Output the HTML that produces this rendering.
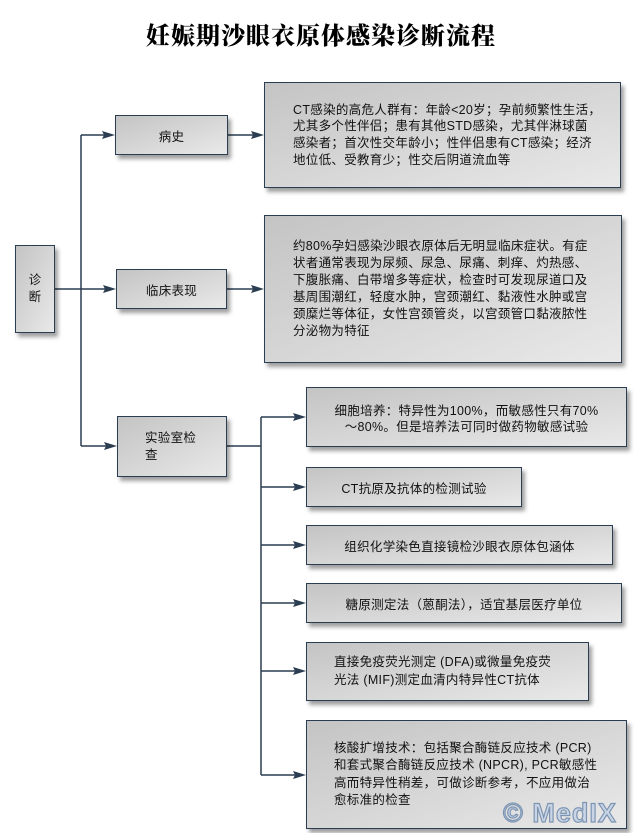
<!DOCTYPE html>
<html><head><meta charset="utf-8">
<style>
html,body{margin:0;padding:0;background:#fff;}
body{width:642px;height:833px;position:relative;overflow:hidden;font-family:"Liberation Sans","Noto Sans CJK SC",sans-serif;color:#111;}
.t{position:absolute;left:0;top:22px;width:642px;text-align:center;font-family:"Liberation Serif","Noto Serif CJK SC",serif;font-weight:900;font-size:24px;line-height:30px;letter-spacing:1px;color:#000;}
.b{position:absolute;box-sizing:border-box;border:1.5px solid #2b3d51;background:linear-gradient(to bottom right,#c4c4c4 0%,#d6d6d6 50%,#e9e9e9 100%);box-shadow:3px 4px 4px rgba(0,0,0,0.38);display:flex;align-items:center;font-size:12.5px;letter-spacing:0.3px;white-space:nowrap;}
.c{justify-content:center;text-align:center;}
svg{position:absolute;left:0;top:0;}
.wm{position:absolute;left:503px;top:798px;font-family:"Liberation Sans",sans-serif;font-weight:bold;font-size:27px;line-height:30px;letter-spacing:1px;color:#c9d5e5;-webkit-text-stroke:1.2px #7d95b3;white-space:nowrap;}
</style></head><body>
<div class="t">妊娠期沙眼衣原体感染诊断流程</div>

<svg width="642" height="833" viewBox="0 0 642 833">
<g stroke="#2b3d51" stroke-width="1.5" fill="none">
<path d="M55 289H106"/>
<path d="M81 135V446"/>
<path d="M81 135H105"/>
<path d="M81 446H107"/>
<path d="M228 135H254"/>
<path d="M227 289H254"/>
<path d="M227 446H261"/>
<path d="M261 417V775"/>
<path d="M261 417H296"/>
<path d="M261 487H296"/>
<path d="M261 545H296"/>
<path d="M261 603H296"/>
<path d="M261 671H296"/>
<path d="M261 775H296"/>
</g>
<g fill="#2b3d51">
<polygon points="116,289 103,285 105,289 103,293"/>
<polygon points="115,135 102,131 104,135 102,139"/>
<polygon points="117,446 104,442 106,446 104,450"/>
<polygon points="264,135 251,131 253,135 251,139"/>
<polygon points="264,289 251,285 253,289 251,293"/>
<polygon points="306,417 293,413 295,417 293,421"/>
<polygon points="306,487 293,483 295,487 293,491"/>
<polygon points="306,545 293,541 295,545 293,549"/>
<polygon points="306,603 293,599 295,603 293,607"/>
<polygon points="306,671 293,667 295,671 293,675"/>
<polygon points="306,775 293,771 295,775 293,779"/>
</g>
</svg>

<div class="b c" style="left:15px;top:245px;width:40px;height:88px;line-height:16.7px;">诊<br>断</div>
<div class="b c" style="left:115px;top:115px;width:113px;height:40px;">病史</div>
<div class="b c" style="left:116px;top:269px;width:111px;height:40px;">临床表现</div>
<div class="b" style="left:117px;top:416px;width:110px;height:61px;padding-left:27px;line-height:17px;">实验室检<br>查</div>

<div class="b" style="left:264px;top:82px;width:357px;height:106px;padding-left:28px;line-height:16.7px;">CT感染的高危人群有：年龄&lt;20岁；孕前频繁性生活，<br>尤其多个性伴侣；患有其他STD感染，尤其伴淋球菌<br>感染者；首次性交年龄小；性伴侣患有CT感染；经济<br>地位低、受教育少；性交后阴道流血等</div>

<div class="b" style="left:264px;top:215px;width:358px;height:148px;padding-left:28px;line-height:17px;">约80%孕妇感染沙眼衣原体后无明显临床症状。有症<br>状者通常表现为尿频、尿急、尿痛、刺痒、灼热感、<br>下腹胀痛、白带增多等症状，检查时可发现尿道口及<br>基周围潮红，轻度水肿，宫颈潮红、黏液性水肿或宫<br>颈糜烂等体征，女性宫颈管炎，以宫颈管口黏液脓性<br>分泌物为特征</div>

<div class="b c" style="left:306px;top:387px;width:321px;height:60px;line-height:16px;padding-top:3px;">细胞培养：特异性为100%，而敏感性只有70%<br>～80%。但是培养法可同时做药物敏感试验</div>
<div class="b c" style="left:306px;top:467px;width:216px;height:40px;">CT抗原及抗体的检测试验</div>
<div class="b c" style="left:306px;top:525px;width:307px;height:40px;">组织化学染色直接镜检沙眼衣原体包涵体</div>
<div class="b c" style="left:306px;top:583px;width:316px;height:40px;">糖原测定法（蒽酮法），适宜基层医疗单位</div>
<div class="b" style="left:306px;top:642px;width:283px;height:59px;padding-left:27px;line-height:17.7px;">直接免疫荧光测定 (DFA)或微量免疫荧<br>光法 (MIF)测定血清内特异性CT抗体</div>
<div class="b" style="left:306px;top:720px;width:321px;height:109px;padding-left:27px;line-height:17.3px;">核酸扩增技术：包括聚合酶链反应技术 (PCR)<br>和套式聚合酶链反应技术 (NPCR), PCR敏感性<br>高而特异性稍差，可做诊断参考，不应用做治<br>愈标准的检查</div>

<div class="wm">© MedIX</div>
</body></html>
